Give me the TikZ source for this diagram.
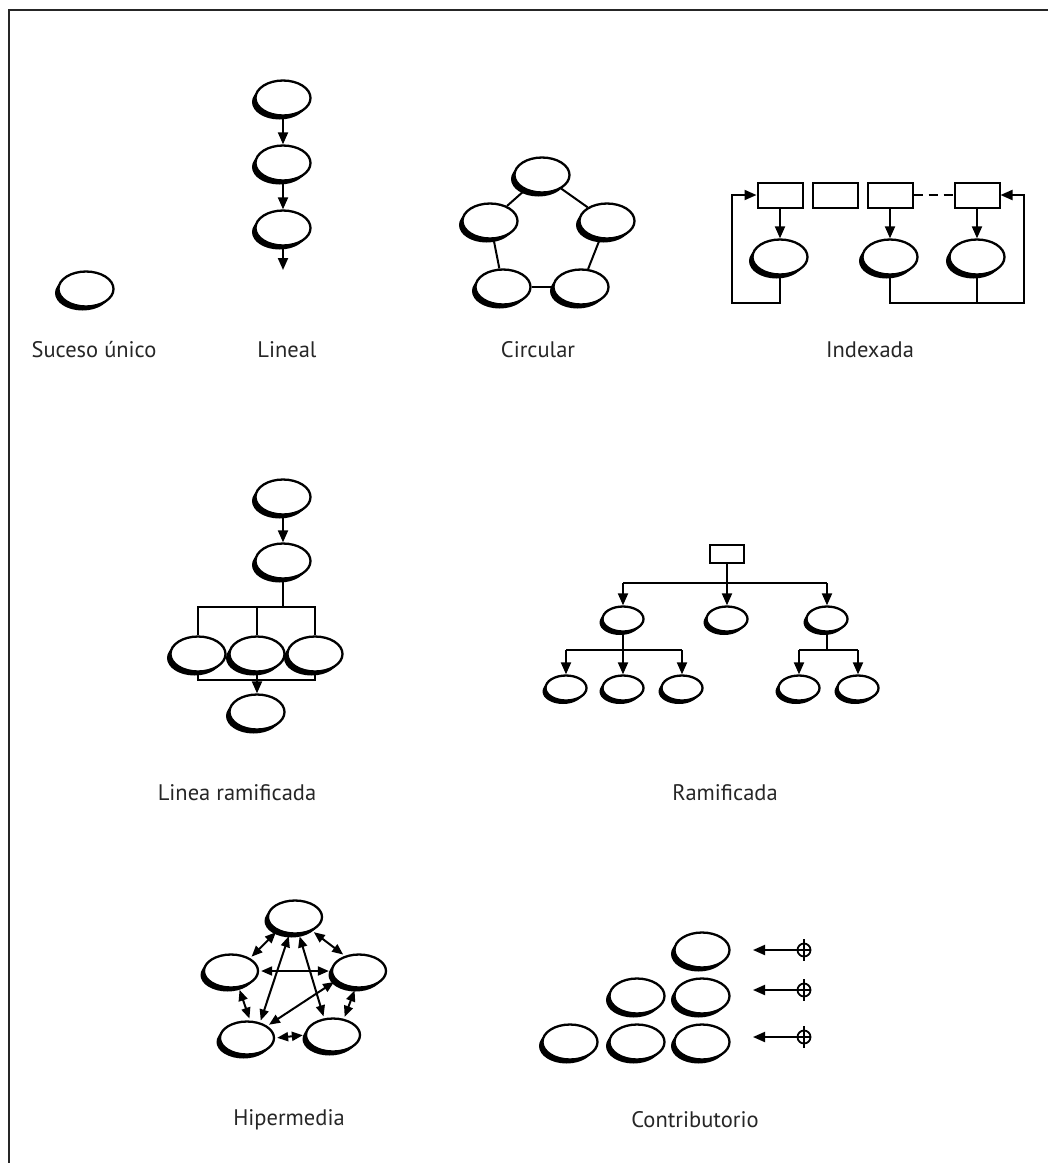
\documentclass[tikz,border=0pt]{standalone}
\usepackage{fontspec}
\setmainfont{PT Sans}
\usetikzlibrary{shapes.geometric,shadows,arrows.meta}
\tikzset{
  evbase/.style={ellipse, draw, fill=white, line width=2.3pt, inner sep=0pt},
  ev/.style={evbase, minimum width=55pt, minimum height=35pt,
    general shadow={fill=black, shadow xshift=-3.5pt, shadow yshift=-4pt}},
  evh/.style={evbase, minimum width=54pt, minimum height=33pt,
    general shadow={fill=black, shadow xshift=-3.5pt, shadow yshift=-4pt}},
  evs/.style={evbase, minimum width=41pt, minimum height=25pt,
    general shadow={fill=black, shadow xshift=-3pt, shadow yshift=-3.5pt}},
  boxn/.style={rectangle, draw, fill=white, line width=2pt, inner sep=0pt},
  conn/.style={line width=2pt},
  arr/.style={conn, -{Triangle[length=12pt,width=10pt]}},
  darr/.style={conn, {Triangle[length=11pt,width=9pt]}-{Triangle[length=11pt,width=9pt]}},
  lbl/.style={font=\fontsize{22.5}{26}\selectfont, text=black!85},
  tgt/.style={circle, draw, line width=1.8pt, minimum size=13pt, inner sep=0pt},
}
\begin{document}
\begin{tikzpicture}[x=1pt,y=-1pt]
\useasboundingbox (0,0) rectangle (1048,1163);
\draw[line width=2.2pt, black!85] (9,1163) -- (9,10) -- (1048,10);

% Suceso unico
\node[ev] (s1) at (86,289) {};
\node[lbl] (ls) at (94,350) {Suceso único};

% Lineal
\node[ev] (l1) at (283,98) {};
\node[ev] (l2) at (283,163) {};
\node[ev] (l3) at (283,228) {};
\coordinate (lend) at (283,270);
\draw[arr] (l1.south) -- (l2.north);
\draw[arr] (l2.south) -- (l3.north);
\draw[arr] (l3.south) -- (lend);
\node[lbl] (ll) at (287,350) {Lineal};

% Circular
\node[ev] (ct) at (542,175) {};
\node[ev] (cl) at (490,221) {};
\node[ev] (cr) at (607,221) {};
\node[ev] (cbl) at (503,287) {};
\node[ev] (cbr) at (581,287) {};
\draw[conn] (ct) -- (cl);
\draw[conn] (ct) -- (cr);
\draw[conn] (cl) -- (cbl);
\draw[conn] (cr) -- (cbr);
\draw[conn] (cbl) -- (cbr);
\node[lbl] (lc) at (538,350) {Circular};

% Indexada
\node[boxn, minimum width=45pt, minimum height=25pt] (b1) at (780,195) {};
\node[boxn, minimum width=45pt, minimum height=25pt] (b2) at (835,195) {};
\node[boxn, minimum width=45pt, minimum height=25pt] (b3) at (890,195) {};
\node[boxn, minimum width=45pt, minimum height=25pt] (b4) at (977,195) {};
\node[ev] (i1) at (780,257) {};
\node[ev] (i2) at (890,257) {};
\node[ev] (i3) at (977,257) {};
\coordinate (fl) at (732,303);
\coordinate (fr) at (1024,303);
\draw[arr] (b1.south) -- (i1.north);
\draw[arr] (b3.south) -- (i2.north);
\draw[arr] (b4.south) -- (i3.north);
\draw[conn, dash pattern=on 9pt off 6pt] (b3.east) -- (b4.west);
\draw[arr] (i1.south) |- (fl) |- (b1.west);
\draw[arr] (i2.south) |- (fr) |- (b4.east);
\draw[conn] (i3.south) -- (i3.south |- fr);
\node[lbl] (li) at (870,350) {Indexada};

% Linea ramificada
\node[ev] (r1) at (283,497) {};
\node[ev] (r2) at (283,561) {};
\node[ev] (ra) at (198,654) {};
\node[ev] (rb) at (257,654) {};
\node[ev] (rc) at (315,654) {};
\node[ev] (rd) at (257,712) {};
\coordinate (lrj) at (283,607);
\coordinate (lrb) at (257,680);
\draw[arr] (r1.south) -- (r2.north);
\draw[conn] (r2.south) -- (lrj);
\draw[conn] (ra.north) -- (ra.north |- lrj) -- (rc.north |- lrj) -- (rc.north);
\draw[conn] (rb.north) -- (rb.north |- lrj);
\draw[conn] (ra.south) -- (ra.south |- lrb) -- (rc.south |- lrb) -- (rc.south);
\draw[arr] (rb.south) -- (rd.north);
\node[lbl] (llr) at (237,793) {Linea ramificada};

% Ramificada
\node[boxn, minimum width=34pt, minimum height=18pt] (rt) at (727,554) {};
\node[evs] (q1) at (623,619) {};
\node[evs] (q2) at (727,619) {};
\node[evs] (q3) at (827,619) {};
\node[evs] (q11) at (566,688) {};
\node[evs] (q12) at (623,688) {};
\node[evs] (q13) at (682,688) {};
\node[evs] (q31) at (799,688) {};
\node[evs] (q32) at (858,688) {};
\coordinate (rj) at (727,583);
\coordinate (qj1) at (623,650);
\coordinate (qj3) at (827,650);
\draw[conn] (rt.south) -- (rj);
\draw[conn] (q1.north |- rj) -- (q3.north |- rj);
\draw[arr] (q1.north |- rj) -- (q1.north);
\draw[arr] (rj) -- (q2.north);
\draw[arr] (q3.north |- rj) -- (q3.north);
\draw[conn] (q1.south) -- (qj1);
\draw[conn] (q11.north |- qj1) -- (q13.north |- qj1);
\draw[arr] (q11.north |- qj1) -- (q11.north);
\draw[arr] (qj1) -- (q12.north);
\draw[arr] (q13.north |- qj1) -- (q13.north);
\draw[conn] (q3.south) -- (qj3);
\draw[conn] (q31.north |- qj3) -- (q32.north |- qj3);
\draw[arr] (q31.north |- qj3) -- (q31.north);
\draw[arr] (q32.north |- qj3) -- (q32.north);
\node[lbl] (lra) at (725,793) {Ramificada};

% Hipermedia
\node[evh] (ht) at (295,917) {};
\node[evh] (hl) at (231,971) {};
\node[evh] (hr) at (359,971) {};
\node[evh] (hbl) at (247,1038) {};
\node[evh] (hbr) at (333,1035) {};
\begin{scope}[shorten <=2pt, shorten >=2pt]
\draw[darr] (hl.34) -- (ht.218);
\draw[darr] (ht.321) -- (hr.133);
\draw[darr] (hl.east) -- (hr.west);
\draw[darr] (ht.252) -- (hbl.50);
\draw[darr] (ht.283) -- (hbr.118);
\draw[darr] (hl.295) -- (hbl.80);
\draw[darr] (hr.203) -- (hbl.31);
\draw[darr] (hr.258) -- (hbr.56);
\draw[darr] (hbl.east) -- (hbr.west);
\end{scope}
\node[lbl] (lh) at (289,1120) {Hipermedia};

% Contributorio
\node[ev] (k1) at (702,950) {};
\node[ev] (k2) at (637,996) {};
\node[ev] (k3) at (702,996) {};
\node[ev] (k4) at (570,1042) {};
\node[ev] (k5) at (637,1042) {};
\node[ev] (k6) at (702,1042) {};
\node[tgt] (t1) at (804,950) {};
\node[tgt] (t2) at (804,990) {};
\node[tgt] (t3) at (804,1037) {};
\coordinate (a1) at (753,950);
\coordinate (a2) at (753,990);
\coordinate (a3) at (753,1037);
\foreach \t/\a in {t1/a1,t2/a2,t3/a3}{
  \draw[arr] (\t.east) -- (\a);
  \draw[line width=1.8pt] ([yshift=3.5pt]\t.north) -- ([yshift=-3.5pt]\t.south);
}
\node[lbl] (lk) at (695,1120) {Contributorio};
\end{tikzpicture}
\end{document}
